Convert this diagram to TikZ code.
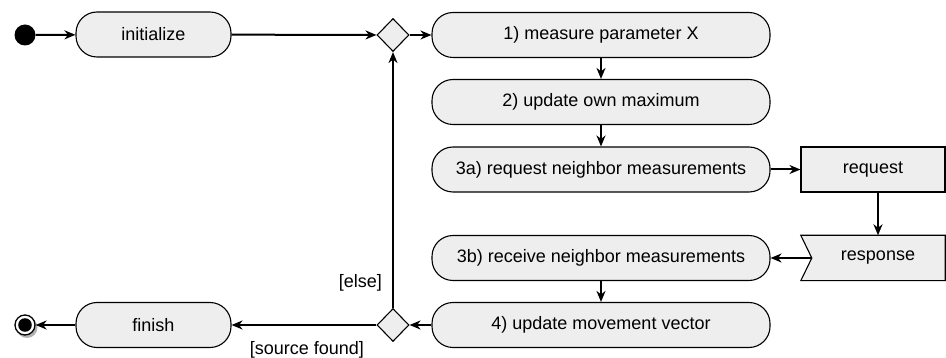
\documentclass[tikz,border=0pt]{standalone}
\usepackage{fontspec}
\setmainfont{Liberation Sans}
\usetikzlibrary{arrows.meta,shapes.geometric,calc}
\definecolor{boxfill}{RGB}{238,238,238}
\tikzset{
  act/.style={draw=black, line width=1.1pt, fill=boxfill, rounded corners=21pt, minimum height=45pt, inner sep=0pt, font=\fontsize{18}{21}\selectfont},
  objbox/.style={draw=black, line width=1.1pt, fill=boxfill, minimum height=45pt, minimum width=144pt, inner sep=0pt, font=\fontsize{18}{21}\selectfont},
  dec/.style={draw=black, line width=1.1pt, fill=boxfill, diamond, minimum width=32pt, minimum height=33pt, inner sep=0pt},
  conn/.style={line width=2pt, -{Stealth[length=11pt,width=9pt,inset=3.5pt]}},
  lbl/.style={font=\fontsize{18}{21}\selectfont, inner sep=0pt}
}
\begin{document}
\begin{tikzpicture}[x=1pt,y=-1pt]
\useasboundingbox (0,0) rectangle (946,358);
% start
\node[circle, fill=black, minimum size=21pt, inner sep=0pt] (start) at (25,35) {};
\node[act, minimum width=155pt] (init) at (153.5,34.5) {initialize};
\node[dec] (d1) at (393,35) {};
\node[act, minimum width=338pt] (a1) at (601,35) {1) measure parameter X};
\node[act, minimum width=338pt] (a2) at (601,102) {2) update own maximum};
\node[act, minimum width=338pt] (a3a) at (601,169.5) {3a) request neighbor measurements};
\node[act, minimum width=338pt] (a3b) at (601,258) {3b) receive neighbor measurements};
\node[act, minimum width=338pt] (a4) at (601,325) {4) update movement vector};
\node[dec] (d2) at (393,325) {};
\node[act, minimum width=155pt] (fin) at (153.5,325) {finish};
% request / response
\node[objbox] (req) at (873,169.5) {request};
\node[lbl, minimum height=45pt, minimum width=144pt] (resp) at (873,258) {};
\draw[line width=1.1pt, fill=boxfill] (resp.north west) -- (resp.north east) -- (resp.south east) -- (resp.south west) -- ($(resp.west)+(11,0)$) -- cycle;
\node[lbl] at ($(resp.center)+(5,0)$) {response};
\coordinate (notch) at ($(resp.west)+(11,0)$);
% end node with shadow
\fill[black!30] (27,327.5) circle (10.5pt);
\node[circle, draw=black, line width=1.3pt, fill=white, minimum size=20pt, inner sep=0pt] (end) at (25,325) {};
\fill[black] (end.center) circle (6.8pt);
% connectors
\draw[conn] (start) -- (init);
\draw[conn] (init) -- (d1);
\draw[conn] (d1) -- (a1);
\draw[conn] (a1) -- (a2);
\draw[conn] (a2) -- (a3a);
\draw[conn] (a3a) -- (req);
\draw[conn] ($(req.south)+(5,0)$) -- ($(resp.north)+(5,0)$);
\draw[conn] (notch) -- (a3b.east);
\draw[conn] (a3b) -- (a4);
\draw[conn] (a4) -- (d2);
\draw[conn] (d2) -- node[lbl, below=15pt, pos=0.48] {[source found]} (fin);
\draw[conn] (d2) -- node[lbl, left=10pt, pos=0.1] {[else]} (d1);
\draw[conn] (fin) -- (end);
\end{tikzpicture}
\end{document}
